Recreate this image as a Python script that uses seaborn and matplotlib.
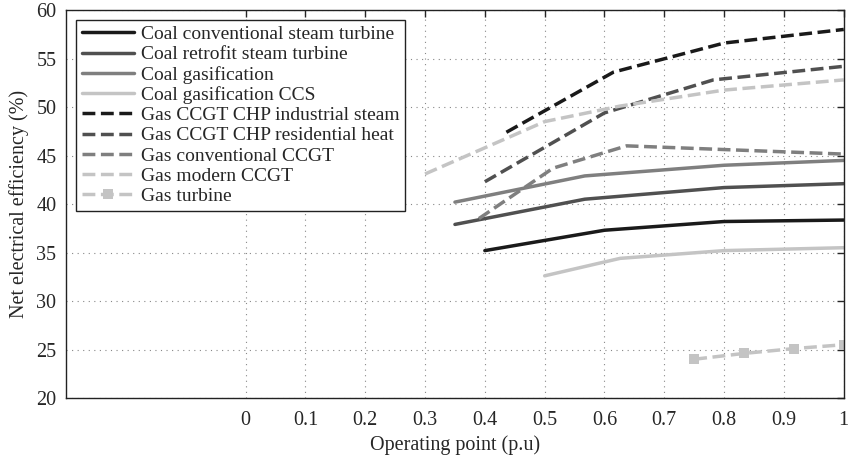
import matplotlib
matplotlib.use('Agg')
import matplotlib.pyplot as plt  # noqa: E402
import pandas as pd  # noqa: E402
import seaborn as sns  # noqa: E402

# operating point (p.u) and net electrical efficiency (%)
COAL_CONV_X = [0.40, 0.60, 0.80, 1.00]
COAL_CONV_Y = [35.2, 37.3, 38.2, 38.35]
COAL_RETRO_X = [0.35, 0.567, 0.80, 1.00]
COAL_RETRO_Y = [37.9, 40.5, 41.7, 42.1]
COAL_GAS_X = [0.35, 0.567, 0.80, 1.00]
COAL_GAS_Y = [40.2, 42.9, 44.0, 44.5]
COAL_CCS_X = [0.50, 0.626, 0.80, 1.00]
COAL_CCS_Y = [32.6, 34.4, 35.2, 35.5]
CHP_IND_X = [0.436, 0.615, 0.80, 1.00]
CHP_IND_Y = [47.4, 53.6, 56.6, 58.0]
CHP_RES_X = [0.40, 0.60, 0.782, 1.00]
CHP_RES_Y = [42.3, 49.4, 52.8, 54.2]
CCGT_CONV_X = [0.39, 0.514, 0.637, 1.00]
CCGT_CONV_Y = [38.5, 43.7, 46.0, 45.15]
CCGT_MOD_X = [0.30, 0.50, 0.626, 0.80, 1.00]
CCGT_MOD_Y = [43.1, 48.5, 50.1, 51.75, 52.8]
GT_X = [0.75, 0.833, 0.917, 1.00]
GT_Y = [24.0, 24.6, 25.1, 25.5]

# (label, x, y, colour, linestyle, marker)
SERIES = [
    ('Coal conventional steam turbine', COAL_CONV_X, COAL_CONV_Y, '#1a1a1a', '-', None),
    ('Coal retrofit steam turbine', COAL_RETRO_X, COAL_RETRO_Y, '#505050', '-', None),
    ('Coal gasification', COAL_GAS_X, COAL_GAS_Y, '#7f7f7f', '-', None),
    ('Coal gasification CCS', COAL_CCS_X, COAL_CCS_Y, '#c4c4c4', '-', None),
    ('Gas CCGT CHP industrial steam', CHP_IND_X, CHP_IND_Y, '#1a1a1a', '--', None),
    ('Gas CCGT CHP residential heat', CHP_RES_X, CHP_RES_Y, '#505050', '--', None),
    ('Gas conventional CCGT', CCGT_CONV_X, CCGT_CONV_Y, '#7f7f7f', '--', None),
    ('Gas modern CCGT', CCGT_MOD_X, CCGT_MOD_Y, '#c4c4c4', '--', None),
    ('Gas turbine', GT_X, GT_Y, '#c4c4c4', '--', 's'),
]

X_TICKS = [0, 0.1, 0.2, 0.3, 0.4, 0.5, 0.6, 0.7, 0.8, 0.9, 1]
X_TICK_LABELS = ['0', '0.1', '0.2', '0.3', '0.4', '0.5', '0.6', '0.7', '0.8', '0.9', '1']
Y_TICKS = [20, 25, 30, 35, 40, 45, 50, 55, 60]

sns.set_style('white')
plt.rcParams['font.family'] = ['Liberation Serif', 'DejaVu Serif']

fig = plt.figure(figsize=(8.48, 4.57), dpi=100)
ax = fig.add_axes([0.078, 0.129, 0.917, 0.849])

for label, xs, ys, color, ls, marker in SERIES:
    df = pd.DataFrame({'x': xs, 'y': ys})
    sns.lineplot(data=df, x='x', y='y', ax=ax, color=color, linestyle=ls, lw=2.5,
                 marker=marker, markersize=7, markeredgewidth=0, label=label)

ax.set_xlim(-0.3, 1.0)
ax.set_ylim(20, 60)
ax.set_xticks(X_TICKS)
ax.set_xticklabels(X_TICK_LABELS)
ax.set_yticks(Y_TICKS)
ax.tick_params(direction='in', top=True, right=True, length=5, width=1,
               labelsize=14.5, pad=7)
ax.tick_params(axis='x', pad=9)
ax.grid(True, ls=(0, (1, 4)), lw=0.8, color='#888888')
for sp in ax.spines.values():
    sp.set_color('#222222')
    sp.set_linewidth(1.0)

ax.set_xlabel('Operating point (p.u)', fontsize=14.5, labelpad=4)
ax.set_ylabel('Net electrical efficiency (%)', fontsize=14.5, labelpad=5)

leg = ax.legend(loc='upper left', fontsize=14, frameon=True, fancybox=False,
                edgecolor='#222222', framealpha=1, labelspacing=0.13, handlelength=2.7,
                handletextpad=0.35, borderpad=0.3, borderaxespad=0.5)
leg.get_frame().set_linewidth(1.0)

fig.savefig('out.png', dpi=100)
